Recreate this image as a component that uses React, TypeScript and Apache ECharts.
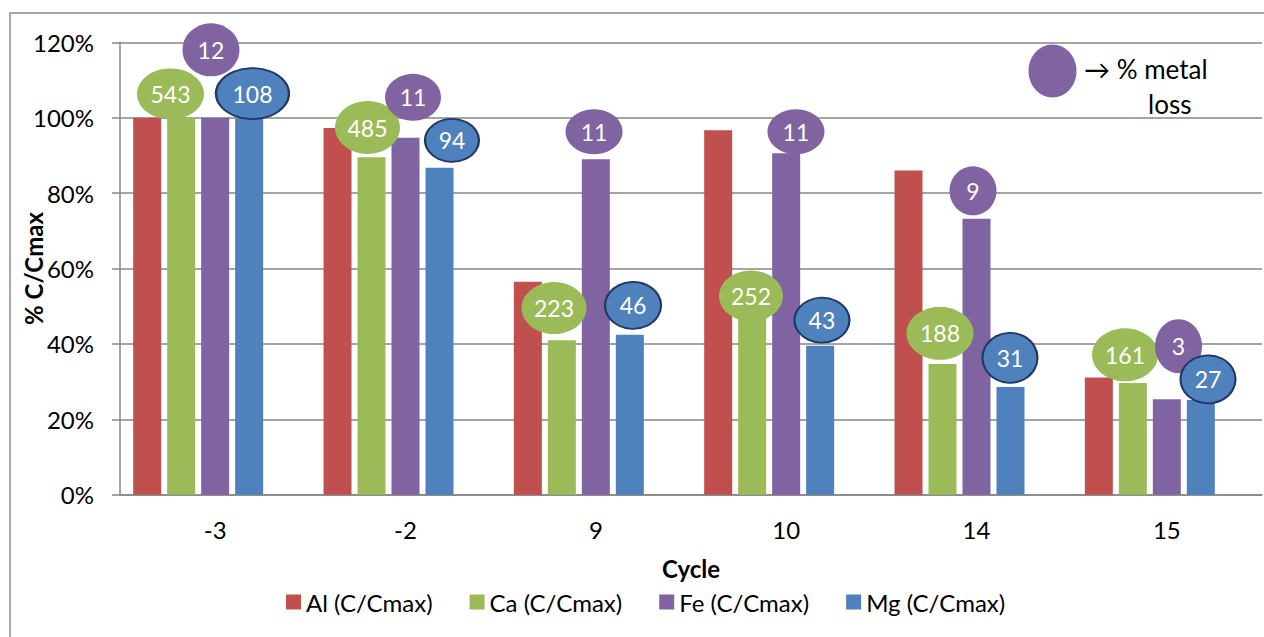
import React, { useEffect, useRef } from "react";
import * as echarts from "echarts";

// Cycles on the x axis
const cycles = ["-3", "-2", "9", "10", "14", "15"];

// Normalised concentration C/Cmax in percent, per element
const al = [100, 97.3, 56.5, 96.7, 86.0, 31.1];
const ca = [100, 89.5, 41.0, 47.0, 34.7, 29.6];
const fe = [100, 94.7, 89.0, 90.6, 73.2, 25.3];
const mg = [100, 86.7, 42.4, 39.5, 28.6, 25.1];

// % metal loss annotated on each element's bubble
const caLoss = [543, 485, 223, 252, 188, 161];
const feLoss = [12, 11, 11, 11, 9, 3];
const mgLoss = [108, 94, 46, 43, 31, 27];

const yTicks = [0, 20, 40, 60, 80, 100, 120];

// Bubble placement: [level on the % axis, horizontal shift px, width, height]
const caBubble = [
  [106.3, -44.7, 67, 51],
  [97.4, -38, 65, 53],
  [49.5, -41.8, 65, 52],
  [52.7, -35.2, 64, 51],
  [42.8, -36.5, 67, 53],
  [37.1, -41.8, 66, 53],
];
const feBubble = [
  [118.0, -4.2, 57, 53],
  [105.4, 7.5, 56, 47],
  [96.3, -1.8, 57, 45],
  [96.3, 9.8, 57, 45],
  [80.6, -3.5, 47, 49],
  [39.4, 11.7, 47, 54],
];
const mgBubble = [
  [106.4, 37.3, 73, 51],
  [94.0, 46.5, 54, 43],
  [50.2, 37.2, 56, 47],
  [46.3, 35.8, 55, 45],
  [36.3, 33.5, 55, 50],
  [30.6, 41.2, 55, 48],
];

const RED = "#C0504D";
const GREEN = "#9BBB59";
const PURPLE = "#8064A2";
const BLUE = "#4F81BD";
const FONT = "Lato";
const AXIS_GREY = "#868686";

function bubbles(
  name: string,
  labels: number[],
  place: number[][],
  color: string,
  border?: string
) {
  return {
    name,
    type: "scatter",
    symbol: "circle",
    z: 5,
    itemStyle: {
      color,
      opacity: 1,
      borderColor: border || color,
      borderWidth: border ? 2 : 0,
    },
    label: {
      show: true,
      position: "inside",
      color: "#fff",
      fontFamily: FONT,
      fontSize: 23,
      formatter: (p: any) => String(labels[p.dataIndex]),
    },
    emphasis: { disabled: true },
    data: place.map((b, i) => ({
      value: [i, b[0]],
      symbolOffset: [b[1], 0],
      symbolSize: [b[2], b[3]],
    })),
  };
}

function bars(name: string, data: (number | null)[], color: string) {
  return {
    name,
    type: "bar",
    barWidth: 28,
    barGap: "21.4%",
    itemStyle: { color },
    emphasis: { disabled: true },
    data,
  };
}

export default function App() {
  const ref = useRef<HTMLDivElement>(null);

  useEffect(() => {
    const chart = echarts.init(ref.current!, null, { renderer: "svg" });
    chart.setOption({
      animation: false,
      backgroundColor: "#fff",
      textStyle: { fontFamily: FONT },
      grid: {
        left: 120,
        right: 2,
        top: 42.3,
        bottom: 142.3,
        containLabel: false,
        outerBoundsMode: "none",
      },
      legend: {
        data: [
          "Al (C/Cmax)",
          "Ca (C/Cmax)",
          "Fe (C/Cmax)",
          "Mg (C/Cmax)",
        ],
        left: 281,
        top: 585,
        icon: "rect",
        itemWidth: 15,
        itemHeight: 15,
        itemGap: 37,
        textStyle: { fontFamily: FONT, fontSize: 24, color: "#000" },
        selectedMode: false,
      },
      xAxis: {
        type: "category",
        data: cycles,
        name: "Cycle",
        nameLocation: "middle",
        nameGap: 62,
        nameMoveOverlap: false,
        nameTextStyle: {
          fontFamily: FONT,
          fontSize: 24,
          fontWeight: "bold",
          color: "#000",
        },
        axisLine: { lineStyle: { color: AXIS_GREY, width: 1.5 } },
        axisTick: { length: 8, lineStyle: { color: AXIS_GREY, width: 1.5 } },
        axisLabel: {
          fontFamily: FONT,
          fontSize: 24,
          color: "#000",
          margin: 23,
        },
      },
      yAxis: {
        type: "value",
        min: yTicks[0],
        max: yTicks[yTicks.length - 1],
        interval: 20,
        name: "% C/Cmax",
        nameLocation: "middle",
        nameGap: 75,
        nameMoveOverlap: false,
        nameTextStyle: {
          fontFamily: FONT,
          fontSize: 24,
          fontWeight: "bold",
          color: "#000",
        },
        axisLine: { show: true, lineStyle: { color: AXIS_GREY, width: 1.5 } },
        axisTick: {
          show: true,
          length: 8,
          lineStyle: { color: AXIS_GREY, width: 1.5 },
        },
        splitLine: { lineStyle: { color: AXIS_GREY, width: 1.5 } },
        axisLabel: {
          fontFamily: FONT,
          fontSize: 24,
          color: "#000",
          margin: 26,
          formatter: "{value}%",
        },
      },
      series: [
        bars("Al (C/Cmax)", al, RED),
        bars("Ca (C/Cmax)", ca, GREEN),
        bars("Fe (C/Cmax)", fe, PURPLE),
        bars("Mg (C/Cmax)", mg, BLUE),
        // empty fifth slot keeps the groups shifted left as in the source sheet
        bars("reserved", cycles.map(() => null), "transparent"),
        bubbles("Ca loss", caLoss, caBubble, GREEN),
        bubbles("Fe loss", feLoss, feBubble, PURPLE),
        bubbles("Mg loss", mgLoss, mgBubble, BLUE, "#1F3864"),
      ],
      graphic: [
        {
          type: "rect",
          silent: true,
          shape: { x: 10, y: 13, width: 1280, height: 660 },
          style: { fill: "none", stroke: "#8a8a8a", lineWidth: 1.5 },
        },
        {
          type: "ellipse",
          silent: true,
          shape: { cx: 1052.5, cy: 71, rx: 24, ry: 26.5 },
          style: { fill: PURPLE },
        },
        {
          type: "text",
          silent: true,
          x: 1084,
          y: 69,
          style: {
            text: "\u2192 % metal",
            font: `26px ${FONT}`,
            fill: "#000",
            verticalAlign: "middle",
          },
        },
        {
          type: "text",
          silent: true,
          x: 1148,
          y: 104,
          style: {
            text: "loss",
            font: `26px ${FONT}`,
            fill: "#000",
            verticalAlign: "middle",
          },
        },
      ],
    });
    return () => chart.dispose();
  }, []);

  return (
    <div
      ref={ref}
      style={{ position: "absolute", left: 0, top: 0, width: 1264, height: 637 }}
    />
  );
}
